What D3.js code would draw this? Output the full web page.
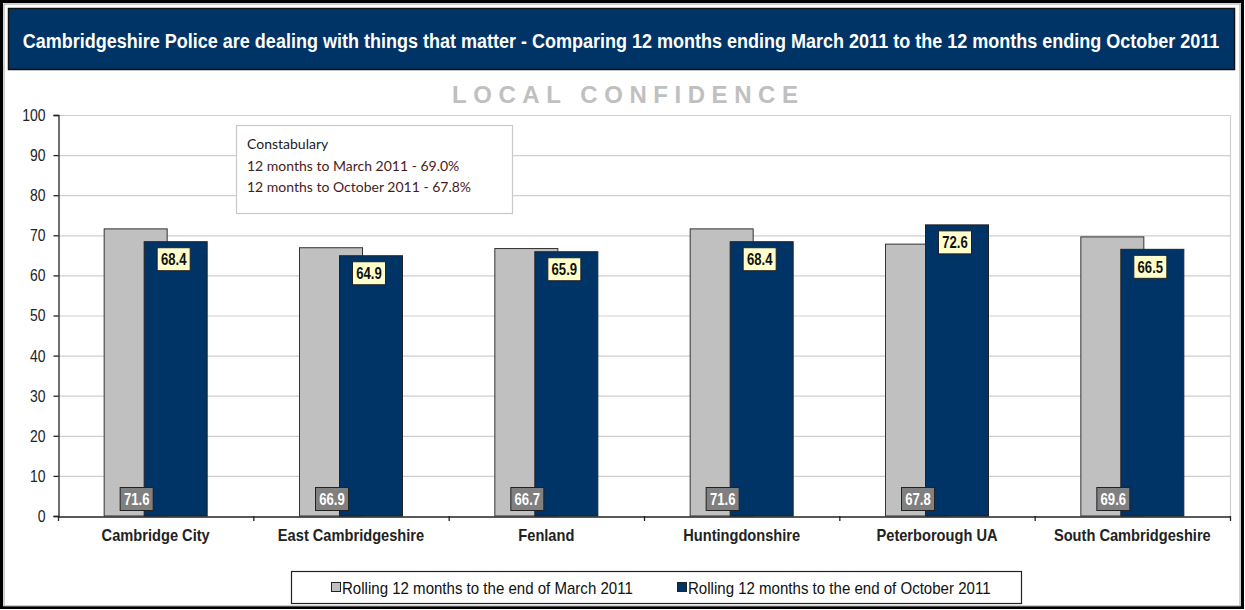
<!DOCTYPE html>
<html><head><meta charset="utf-8">
<script src="https://cdn.jsdelivr.net/npm/d3@7"></script>
<style>
html,body{margin:0;padding:0;background:#fff;}
svg{display:block;}
</style></head>
<body>
<svg id="chart" width="1245" height="610"></svg>
<script>
const categories = ["Cambridge City","East Cambridgeshire","Fenland","Huntingdonshire","Peterborough UA","South Cambridgeshire"];
const march2011 = [71.6, 66.9, 66.7, 71.6, 67.8, 69.6];
const october2011 = [68.4, 64.9, 65.9, 68.4, 72.6, 66.5];
const yTicks = [0,10,20,30,40,50,60,70,80,90,100];
const seriesNames = ["Rolling 12 months to the end of March 2011","Rolling 12 months to the end of October 2011"];
const titleText = "Cambridgeshire Police are dealing with things that matter - Comparing 12 months ending March 2011 to the 12 months ending October 2011";
const subTitle = "LOCAL CONFIDENCE";
const noteLines = ["Constabulary","12 months to March 2011 - 69.0%","12 months to October 2011 - 67.8%"];

const NARROW = "'Liberation Sans Narrow','Arial Narrow','Liberation Sans',Arial,sans-serif";
const svg = d3.select("#chart");
const navy = "#003366", grey = "#c0c0c0";

// condense text horizontally (Arial Narrow look)
function condense(sel, factor){
  sel.each(function(){
    const L = this.getComputedTextLength();
    d3.select(this).attr("textLength", (L*factor).toFixed(1)).attr("lengthAdjust","spacingAndGlyphs");
  });
}

// outer frame
svg.append("rect").attr("x",1.5).attr("y",1.5).attr("width",1241).attr("height",606)
  .attr("fill","#fff").attr("stroke","#000").attr("stroke-width",3);
svg.append("rect").attr("x",4).attr("y",4).attr("width",1236).attr("height",602)
  .attr("fill","none").attr("stroke","#a0a0a0").attr("stroke-width",1);

// title banner
svg.append("rect").attr("x",8.5).attr("y",8.5).attr("width",1226).attr("height",61)
  .attr("fill",navy).attr("stroke","#111").attr("stroke-width",1.5);
const tg = svg.append("g").attr("transform","translate(621,48)");
const tt = tg.append("text").attr("x",0).attr("y",0).attr("text-anchor","middle")
  .attr("fill","#fff").attr("font-family",NARROW).attr("font-weight","bold").attr("font-size",21)
  .text(titleText);
const tL = tt.node().getComputedTextLength();
tg.attr("transform",`translate(621,48) scale(${(1198/tL).toFixed(4)},1)`);

svg.append("text").attr("x",625).attr("y",103).attr("text-anchor","middle")
  .attr("fill","#c0c0c0").attr("font-family","'Liberation Sans',Arial,sans-serif").attr("font-weight","bold")
  .attr("font-size",24).attr("textLength",346).attr("lengthAdjust","spacing").text(subTitle);

const x0 = 58, x1 = 1230, yTop = 115, yBot = 516;
const x = d3.scaleBand().domain(categories).range([x0,x1]).padding(0);
const y = d3.scaleLinear().domain([0,100]).range([yBot,yTop]);

// grid
svg.append("g").selectAll("line").data(yTicks.filter(d=>d>0)).join("line")
  .attr("x1",x0).attr("x2",x1).attr("y1",d=>y(d)+0.5).attr("y2",d=>y(d)+0.5)
  .attr("stroke","#cfcfcf").attr("stroke-width",1.2);
svg.append("line").attr("x1",x1+0.5).attr("x2",x1+0.5).attr("y1",yTop).attr("y2",yBot)
  .attr("stroke","#cfcfcf").attr("stroke-width",1.2);

// axes
const yAxis = svg.append("g").attr("transform",`translate(${x0+0.5},0)`)
  .call(d3.axisLeft(y).tickValues(yTicks).tickSize(5).tickPadding(8));
yAxis.select(".domain").attr("stroke","#222").attr("stroke-width",1.3);
yAxis.selectAll(".tick line").attr("stroke","#222").attr("stroke-width",1.3);
yAxis.selectAll("text").attr("font-family",NARROW).attr("font-size",17).attr("fill","#222");
condense(yAxis.selectAll("text"), 0.82);

const xAxisG = svg.append("g").attr("transform",`translate(0,${yBot+0.5})`)
  .call(d3.axisBottom(x).tickSize(0).tickPadding(12));
xAxisG.select(".domain").attr("stroke","#222").attr("stroke-width",1.3);
xAxisG.selectAll("text").attr("font-family",NARROW).attr("font-size",17).attr("font-weight","bold").attr("fill","#222");
condense(xAxisG.selectAll("text"), 0.86);
// boundary ticks
svg.append("g").selectAll("line").data(categories.map(c=>x(c)).concat([x1])).join("line")
  .attr("x1",d=>d+0.5).attr("x2",d=>d+0.5).attr("y1",yBot).attr("y2",yBot+5)
  .attr("stroke","#222").attr("stroke-width",1.3);

const bw = 63;
const greyX = c => x(c) + x.bandwidth()/2 - 51.5;
const navyX = c => x(c) + x.bandwidth()/2 - 11.5;

svg.append("g").selectAll("rect").data(categories).join("rect")
  .attr("x",c=>greyX(c)).attr("y",(c,i)=>y(march2011[i])).attr("width",bw)
  .attr("height",(c,i)=>yBot-y(march2011[i]))
  .attr("fill",grey).attr("stroke","#333").attr("stroke-width",1);
svg.append("g").selectAll("rect").data(categories).join("rect")
  .attr("x",c=>navyX(c)).attr("y",(c,i)=>y(october2011[i])).attr("width",bw)
  .attr("height",(c,i)=>yBot-y(october2011[i]))
  .attr("fill",navy).attr("stroke","#222").attr("stroke-width",1);

// grey labels (bottom)
const gl = svg.append("g").selectAll("g").data(categories).join("g")
  .attr("transform",c=>`translate(${greyX(c)+bw/2+1},499)`);
gl.append("rect").attr("x",-16.5).attr("y",-11.5).attr("width",33).attr("height",23)
  .attr("fill","#808080").attr("stroke","#222").attr("stroke-width",1);
const glt = gl.append("text").attr("text-anchor","middle").attr("dy","0.36em")
  .attr("font-family",NARROW).attr("font-weight","bold").attr("font-size",16).attr("fill","#fff")
  .text((c,i)=>march2011[i].toFixed(1));
condense(glt, 0.82);

// navy labels (top)
const nl = svg.append("g").selectAll("g").data(categories).join("g")
  .attr("transform",(c,i)=>`translate(${navyX(c)+bw/2-2},${y(october2011[i])+17.5})`);
nl.append("rect").attr("x",-16.5).attr("y",-11.5).attr("width",33).attr("height",23)
  .attr("fill","#ffffcc").attr("stroke","#222").attr("stroke-width",1);
const nlt = nl.append("text").attr("text-anchor","middle").attr("dy","0.36em")
  .attr("font-family",NARROW).attr("font-weight","bold").attr("font-size",16).attr("fill","#111")
  .text((c,i)=>october2011[i].toFixed(1));
condense(nlt, 0.82);

// annotation box
svg.append("rect").attr("x",236.5).attr("y",125.5).attr("width",276).attr("height",88)
  .attr("fill","#fff").attr("stroke","#c8c8c8").attr("stroke-width",1.2);
svg.append("g").selectAll("text").data(noteLines).join("text")
  .attr("x",247).attr("y",(d,i)=>149+i*21.5)
  .attr("font-family","Lato,'Open Sans',sans-serif").attr("font-size",14)
  .attr("fill",(d,i)=>i===0?"#1a1a2e":"#4a1a1a").text(d=>d);

// legend
svg.append("rect").attr("x",291.5).attr("y",571.5).attr("width",730).attr("height",32)
  .attr("fill","#fff").attr("stroke","#222").attr("stroke-width",1.2);
const legX = [331, 677];
const lg = svg.append("g").selectAll("g").data(seriesNames).join("g")
  .attr("transform",(d,i)=>`translate(${legX[i]},588)`);
lg.append("rect").attr("x",0.5).attr("y",-5.5).attr("width",9).attr("height",9)
  .attr("fill",(d,i)=>i===0?grey:navy).attr("stroke","#222").attr("stroke-width",1);
const lgt = lg.append("text").attr("x",11).attr("dy","0.35em")
  .attr("font-family",NARROW).attr("font-size",17).attr("fill","#111").text(d=>d);
condense(lgt, 0.885);
</script>
</body></html>
